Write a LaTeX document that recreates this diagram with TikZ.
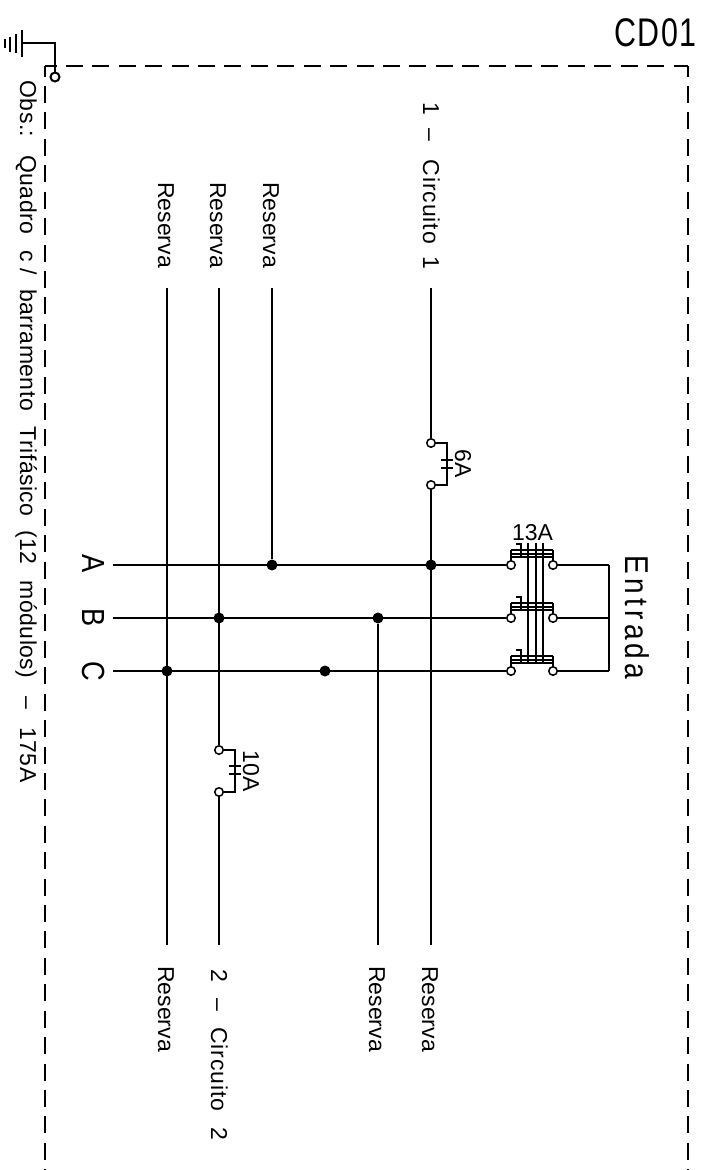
\documentclass[tikz,border=0pt]{standalone}
\usepackage{fontspec}
\setmainfont{Liberation Sans}
\newfontfamily\narrowfont{Liberation Sans}[FakeStretch=0.85]
\newfontfamily\cdfont{Liberation Sans}[FakeStretch=0.76,LetterSpace=4]
\newfontfamily\entradafont{Liberation Sans}[FakeStretch=0.85,LetterSpace=13]
\newfontfamily\circuitfont{Liberation Sans}[LetterSpace=4]
\newfontfamily\obsfont{Liberation Sans}[LetterSpace=2]
\tikzset{
	x=1pt,y=-1pt,
	wire/.style={line width=1.5pt},
	heavy/.style={line width=2pt},
	frame/.style={line width=1.5pt,dash pattern=on 17pt off 9.42pt},
	term/.style={circle,draw,fill=white,line width=1.5pt,inner sep=0pt,minimum size=8.5pt},
	dot/.style={circle,fill=black,inner sep=0pt,minimum size=11pt},
	txt/.style={anchor=base,inner sep=0pt,font=\fontsize{23}{26}\selectfont},
	lbl/.style={txt,rotate=-90},
	phase/.style={lbl,font=\fontsize{32}{36}\selectfont\narrowfont},
}
\begin{document}
\begin{tikzpicture}
	\useasboundingbox (0,0) rectangle (709,1170);
	% quadro
	\coordinate (cornerTL) at (45,66);
	\coordinate (cornerTR) at (688,66);
	\coordinate (frameL) at (45,1170);
	\coordinate (frameR) at (688,1170);
	\draw[frame,dash phase=5.5pt] (cornerTL)--(cornerTR);
	\draw[frame,dash phase=6.4pt] (cornerTL)--(frameL);
	\draw[frame,dash phase=6.4pt] (cornerTR)--(frameR);
	% textos
	\node[txt,font=\fontsize{40}{44}\selectfont\cdfont] (cd01) at (655.5,46) {CD01};
	\node[lbl,font=\fontsize{33}{36}\selectfont\entradafont] (entrada) at (625,617.5) {Entrada};
	\node[lbl,font=\fontsize{23}{26}\selectfont\obsfont] (obs) at (20,431.5) {Obs.:\hspace{18pt}Quadro\hspace{16pt}c /\hspace{14pt}barramento\hspace{16pt}Trifásico\hspace{14pt}(12\hspace{16pt}módulos)\hspace{18pt}–\hspace{18pt}175A};
	\node[phase] (labelA) at (82,564) {A};
	\node[phase] (labelB) at (82,617.5) {B};
	\node[phase] (labelC) at (82,671) {C};
	\node[lbl,font=\fontsize{23}{26}\selectfont\circuitfont] (circ1) at (423,185.5) {1\hspace{14pt}–\hspace{18pt}Circuito\hspace{12pt}1};
	\node[lbl] (resT1) at (263,225) {Reserva};
	\node[lbl] (resT2) at (210,225) {Reserva};
	\node[lbl] (resT3) at (158,225) {Reserva};
	\node[lbl] (resB1) at (422,1009) {Reserva};
	\node[lbl] (resB2) at (369,1009) {Reserva};
	\node[lbl,font=\fontsize{23}{26}\selectfont\circuitfont] (circ2) at (211,1055) {2\hspace{16pt}–\hspace{16pt}Circuito\hspace{16pt}2};
	\node[lbl] (resB3) at (158,1009) {Reserva};
	\node[txt] (amp13) at (532.5,540) {13A};
	\node[lbl] (amp6) at (455,463.5) {6A};
	\node[lbl] (amp10) at (243,771) {10A};
	% terra
	\coordinate (earth) at (22,43);
	\coordinate (earthBend) at (55,43);
	\node[term,line width=2pt,minimum size=9pt] (earthTerm) at (55,77) {};
	\draw[heavy] (earth)--(earthBend)--(earthTerm);
	\draw[heavy] (22,30)--(22,57) (16,34)--(16,53) (10,37)--(10,52);
	\draw[heavy] (5,39)--(5,48);
	% barramentos
	\coordinate (barA) at (113,565);
	\coordinate (barB) at (113,618);
	\coordinate (barC) at (113,671);
	\coordinate (outA) at (609,565);
	\coordinate (outB) at (609,618);
	\coordinate (outC) at (609,671);
	\node[term] (inA) at (511,565) {};
	\node[term] (inB) at (511,618) {};
	\node[term] (inC) at (511,671) {};
	\node[term] (exA) at (553,565) {};
	\node[term] (exB) at (553,618) {};
	\node[term] (exC) at (553,671) {};
	\draw[wire] (barA)--(inA);
	\draw[wire] (barB)--(inB);
	\draw[wire] (barC)--(inC);
	\draw[wire] (exA)--(outA);
	\draw[wire] (exB)--(outB);
	\draw[wire] (exC)--(outC);
	\draw[wire] (outA)--(outC);
	% disjuntor tripolar
	\foreach \y in {565,618,671}{
		\draw[wire] (511,\y-15)--(553,\y-15) (511,\y-11)--(553,\y-11);
		\draw[heavy] (511,\y-8)--(553,\y-8);
		\draw[wire] (511,\y-15)--(511,\y-4) (553,\y-15)--(553,\y-4);
		\draw[heavy] (516,\y-21.5)--(521,\y-21.5)--(521,\y-8);
	}
	\draw[wire] (528,543)--(528,663) (536,543)--(536,663) (543,543)--(543,663);
	% circuitos
	\coordinate (topC1) at (431,288);
	\coordinate (topR1) at (272,288);
	\coordinate (topR2) at (219,288);
	\coordinate (topR3) at (167,288);
	\coordinate (botC1) at (431,945);
	\coordinate (botR2) at (378,945);
	\coordinate (botC2) at (219,945);
	\coordinate (botR3) at (167,945);
	\node[dot] (jA1) at (431,565) {};
	\node[dot] (jA2) at (272,565) {};
	\node[dot] (jB1) at (378,618) {};
	\node[dot] (jB2) at (219,618) {};
	\node[dot] (jC1) at (325,671) {};
	\node[dot] (jC2) at (167,671) {};
	\node[term] (q1a) at (431,443) {};
	\node[term] (q1b) at (431,485) {};
	\node[term] (q2a) at (219,750) {};
	\node[term] (q2b) at (219,792) {};
	\draw[wire] (topC1)--(q1a);
	\draw[wire] (q1b)--(botC1);
	\draw[wire] (topR1)--(jA2);
	\draw[wire] (topR2)--(q2a);
	\draw[wire] (q2b)--(botC2);
	\draw[wire] (jB1)--(botR2);
	\draw[wire] (topR3)--(botR3);
	% disjuntor 6A
	\draw[wire] (q1a)-|(447,464)|-(q1b);
	\draw[line width=2.5pt] (441,460)--(453,460);
	\draw[wire] (441,468)--(453,468);
	% disjuntor 10A
	\draw[wire] (q2a)-|(235,771)|-(q2b);
	\draw[line width=2.5pt] (229,766)--(241,766);
	\draw[wire] (229,774)--(241,774);
\end{tikzpicture}
\end{document}
